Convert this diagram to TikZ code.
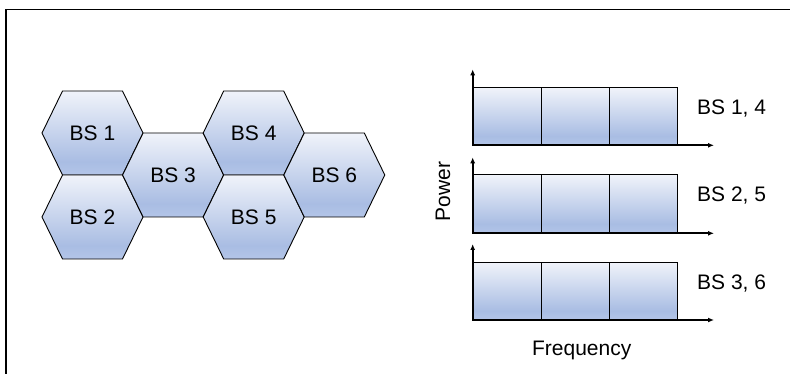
\documentclass[tikz,border=0pt]{standalone}
\usepackage{fontspec}
\setmainfont{Liberation Sans}
\usetikzlibrary{arrows.meta}
\definecolor{cTop}{HTML}{F0F3FA}
\definecolor{cMid}{HTML}{A9BDE3}
\definecolor{cBot}{HTML}{B3C5E8}
\pgfdeclareverticalshading{cellshade}{100bp}{color(0bp)=(cBot); color(25bp)=(cBot); color(33bp)=(cMid); color(75bp)=(cTop); color(100bp)=(cTop)}
\tikzset{
  cellfill/.style={shading=cellshade, draw=black, line width=0.9pt, line join=miter},
  lbl/.style={font=\fontsize{21}{25}\selectfont, inner sep=0pt},
  axisline/.style={line width=1.7pt, -{Latex[length=6pt,width=5pt]}},
  hexcell/.pic={\path[cellfill] (-50.5,0) -- (-30,-42) -- (30,-42) -- (50.5,0) -- (30,42) -- (-30,42) -- cycle;}
}
\begin{document}
\begin{tikzpicture}[x=1pt,y=-1pt]
\useasboundingbox (0,0) rectangle (790,374);
\fill[white] (0,0) rectangle (790,374);
% frame (top and left edges)
\draw[line width=1.8pt] (6,380) -- (6,9.5) -- (795,9.5);
% hexagonal cells
\foreach \cx/\cy/\t/\nm in {92.5/133/BS 1/b1, 92.5/217/BS 2/b2, 173.1/175/BS 3/b3, 253.7/133/BS 4/b4, 253.7/217/BS 5/b5, 334.3/175/BS 6/b6}{
  \pic at (\cx,\cy) {hexcell};
  \node[lbl] (\nm) at (\cx,\cy) {\t};
}
% spectrum charts
\foreach \ay/\bt/\t/\k in {145.3/87.7/{BS 1, 4}/1, 233.3/174.8/{BS 2, 5}/2, 320/262.3/{BS 3, 6}/3}{
  \foreach \xa/\xb in {472.7/541.3, 541.3/609.7, 609.7/677.7}{
    \path[cellfill] (\xa,\ay) rectangle (\xb,\bt);
  }
  \coordinate (o\k) at (472.7,\ay);
  \coordinate (yt\k) at (472.7,\ay-76);
  \coordinate (xt\k) at (714,\ay);
  \draw[axisline] (o\k) -- (yt\k);
  \draw[axisline] (o\k) -- (xt\k);
  \node[lbl, anchor=west] (l\k) at (697,\bt+21) {\t};
}
\node[lbl, rotate=90] (pw) at (443,191.7) {Power};
\node[lbl] (fq) at (581.7,350) {Frequency};
\end{tikzpicture}
\end{document}
